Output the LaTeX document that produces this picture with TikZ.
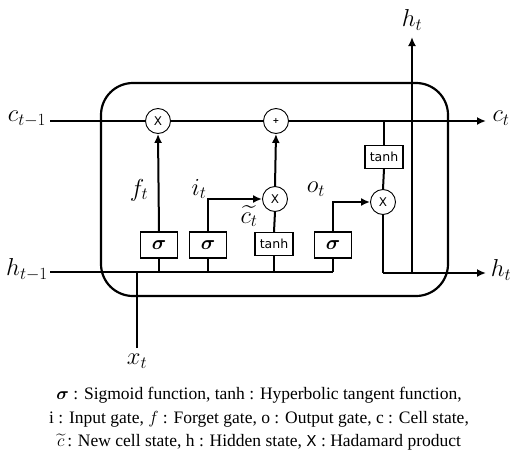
\RequirePackage{fix-cm}
\documentclass[tikz,border=0pt]{standalone}
\usepackage{amsmath}
\usepackage{fontspec}
\setmainfont{Liberation Serif}
\newfontfamily\dejasans{DejaVu Sans}
\usetikzlibrary{arrows.meta}
\tikzset{
  lbl/.style={inner sep=0pt, font=\fontsize{24.5}{28}\selectfont},
  opcirc/.style={circle, draw, line width=0.9pt, minimum size=25pt, inner sep=0pt, fill=white, font=\dejasans\fontsize{12}{13}\selectfont},
  gatebox/.style={rectangle, draw, line width=1.2pt, minimum width=37pt, minimum height=26pt, inner sep=0pt, fill=white, font=\fontsize{20}{21}\selectfont},
  tbox/.style={rectangle, draw, line width=1.2pt, minimum width=38pt, minimum height=23pt, inner sep=0pt, fill=white, font=\dejasans\fontsize{12.5}{13}\selectfont},
  wire/.style={line width=2pt},
  arr/.style={wire, -{Latex[length=9pt,width=8pt]}},
  cell/.style={line width=2.2pt, rounded corners=32pt},
}
\begin{document}
\begin{tikzpicture}[x=1pt,y=-1pt]
\useasboundingbox (0,0) rectangle (517,450);
% cell outline
\draw[cell] (101,83) rectangle (448,296);
% labels
\node[lbl] (cprev) at (27,119) {$c_{t-1}$};
\node[lbl] (hprev) at (27,270) {$h_{t-1}$};
\node[lbl] (xt) at (137,361) {$x_t$};
\node[lbl] (ct) at (501,118) {$c_t$};
\node[lbl] (htr) at (501,270) {$h_t$};
\node[lbl] (htt) at (412,20) {$h_t$};
\node[lbl] (ft) at (139,190) {$f_t$};
\node[lbl] (it) at (199,189) {$i_t$};
\node[lbl] (ot) at (316,189) {$o_t$};
\node[lbl] (ctil) at (249,216) {$\widetilde{c_t}$};
% coordinates
\coordinate (cs) at (50,121);
\coordinate (ce) at (486,121);
\coordinate (hs) at (50,272);
\coordinate (he) at (333,272);
\coordinate (xs) at (137,348);
\coordinate (xe) at (137,272);
\coordinate (hf) at (159,272);
\coordinate (hi) at (208,272);
\coordinate (hc) at (274,272);
\coordinate (co) at (384,121);
\coordinate (ob) at (383,273);
\coordinate (hoe) at (486,273);
\coordinate (hup) at (412,273);
\coordinate (htop) at (412,37);
% wires under nodes
\draw[wire] (hs) -- (he);
\draw[wire] (xs) -- (xe);
% ops
\node[opcirc] (mulf) at (158,121) {X};
\node[opcirc, font=\dejasans\fontsize{8}{9}\selectfont\bfseries] (plus) at (276,121) {+};
\node[opcirc] (muli) at (275,199) {X};
\node[opcirc] (mulo) at (383,202) {X};
\node[gatebox] (sigf) at (159,245) {$\boldsymbol{\sigma}$};
\node[gatebox] (sigi) at (208,245) {$\boldsymbol{\sigma}$};
\node[tbox] (tanhc) at (274,244) {tanh};
\node[gatebox] (sigo) at (333,245) {$\boldsymbol{\sigma}$};
\node[tbox] (tanho) at (384,157) {tanh};
% cell state line
\draw[wire] (cs) -- (mulf.west);
\draw[wire] (mulf.east) -- (plus.west);
\draw[arr] (plus.east) -- (ce);
% gates
\draw[wire] (hf) -- (sigf.south);
\draw[arr] (sigf.north) -- (mulf.south);
\draw[wire] (hi) -- (sigi.south);
\draw[arr] (sigi.north) |- (muli.west);
\draw[wire] (hc) -- (tanhc.south);
\draw[wire] (tanhc.north) -- (muli.south);
\draw[arr] (muli.north) -- (plus.south);
\draw[wire] (he) -- (sigo.south);
\draw[arr] (sigo.north) |- (mulo.west);
\draw[wire] (co) -- (tanho.north);
\draw[wire] (tanho.south) -- (mulo.north);
\draw[wire] (mulo.south) -- (ob);
\draw[arr] (ob) -- (hoe);
\draw[arr] (hup) -- (htop);
% legend
\node[align=center, inner sep=0pt, font=\fontsize{17.5}{23.5}\selectfont] (legend) at (259,419)
 {$\boldsymbol{\sigma}$ : Sigmoid function, tanh : Hyperbolic tangent function,\\
  i : Input gate, $f$ : Forget gate, o : Output gate, c : Cell state,\\
  $\widetilde{c}$\,: New cell state, h : Hidden state, {\dejasans\fontsize{15}{16}\selectfont X} : Hadamard product};
\end{tikzpicture}
\end{document}
